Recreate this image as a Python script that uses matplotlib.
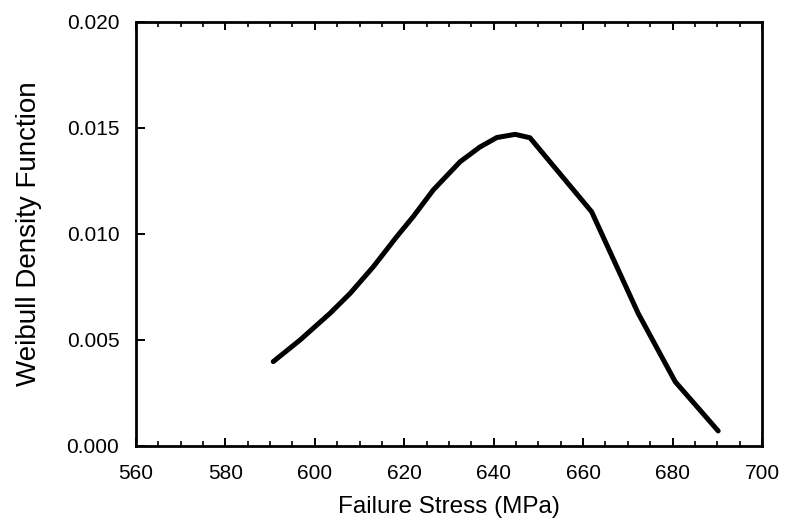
import matplotlib
matplotlib.use("Agg")
import matplotlib.pyplot as plt
from matplotlib.ticker import MultipleLocator

plt.rcParams['font.family'] = ['Liberation Sans', 'DejaVu Sans']

# values
stress = [590.7, 596.7, 603.4, 607.9, 613.1, 618.3, 622.0, 626.5, 632.5,
          636.9, 640.7, 644.8, 648.1, 661.9, 672.3, 680.6, 690.2]
density = [0.00398, 0.00500, 0.00626, 0.00720, 0.00846, 0.00987, 0.01082,
           0.01208, 0.01341, 0.01410, 0.01455, 0.01470, 0.01454, 0.01105,
           0.00626, 0.00303, 0.00071]

fig = plt.figure(figsize=(7.85, 5.25), dpi=100)
ax = fig.add_axes([0.1732, 0.1505, 0.7975, 0.8076])

ax.plot(stress, density, color='black', lw=3.6, solid_capstyle='round',
        solid_joinstyle='round')

ax.set_xlim(560, 700)
ax.set_ylim(0, 0.020)
ax.xaxis.set_major_locator(MultipleLocator(20))
ax.xaxis.set_minor_locator(MultipleLocator(5))
ax.yaxis.set_major_locator(MultipleLocator(0.005))
ax.yaxis.set_major_formatter(plt.FormatStrFormatter('%.3f'))

ax.tick_params(axis='x', which='both', direction='in', top=True,
               labelsize=15, pad=13)
ax.tick_params(axis='x', which='major', length=6, width=1.4)
ax.tick_params(axis='x', which='minor', length=3.5, width=1.2)
ax.tick_params(axis='y', which='major', direction='in', length=6.5, width=1.4,
               labelsize=15, pad=12)

for s in ax.spines.values():
    s.set_linewidth(2.0)

ax.set_xlabel('Failure Stress (MPa)', fontsize=17.5, labelpad=9)
ax.set_ylabel('Weibull Density Function', fontsize=20, labelpad=18)

fig.savefig('out.png', dpi=100)
